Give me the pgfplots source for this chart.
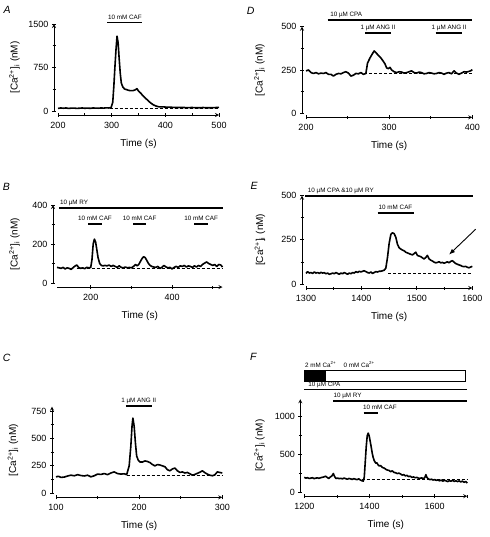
\documentclass[border=0pt]{standalone}
\usepackage{pgfplots}
\pgfplotsset{compat=1.18}
\usepackage{fontspec}
\setmainfont{Liberation Sans}
\usetikzlibrary{arrows.meta}
\newcommand{\annfont}{\fontsize{6.3}{7}\selectfont}
\newcommand{\lab}[4][base]{\node[anchor=#1, font=\annfont, inner sep=0pt, yshift=3.5pt] at (axis cs:#2,#3) {#4};}
\tikzset{
  trace/.style={black, line width=1.6pt, line join=round},
  base/.style={black, line width=0.7pt, dash pattern=on 3pt off 2pt},
  bar/.style={black, line width=1.8pt},
  plab/.style={font=\fontsize{10.5}{12}\selectfont\itshape, anchor=west, inner sep=0pt},
}
\pgfplotsset{
  igorbase/.style={
    scale only axis, anchor=south west, clip=false,
    tick align=outside,
    major tick length=4pt,
    minor tick length=3pt,
    every tick/.append style={black, line width=0.8pt},
    axis line style={-, line width=0.8pt},
    tick label style={font=\fontsize{9}{10}\selectfont},
    /pgf/number format/assume math mode=true,
    /pgf/number format/1000 sep={},
  },
  igorx/.style={igorbase,
    axis x line=bottom, axis y line=none,
    ymajorticks=false, yminorticks=false,
    xticklabel style={yshift=-1.5pt},
    xlabel={Time (s)},
    every axis x label/.style={at={(axis description cs:0.5,0)}, yshift=-29pt, anchor=center, font=\fontsize{10}{12}\selectfont},
  },
  igory/.style={igorbase,
    axis y line=left, axis x line=none,
    xmajorticks=false, xminorticks=false,
    ylabel={[Ca\textsuperscript{2+}]\textsubscript{i} (nM)},
    every axis y label/.style={at={(axis description cs:#1,0.5)}, rotate=90, anchor=center, font=\fontsize{10}{12}\selectfont},
  },
  igord/.style={scale only axis, anchor=south west, clip=false, hide axis},
  pA/.style={width=161pt, height=87pt, xmin=200, xmax=500, ymin=0, ymax=1500,
    xtick={200,300,400,500}, minor xtick={250,350,450}, ytick={0,750,1500}, minor ytick={375,1125}},
  pB/.style={width=165.5pt, height=78pt, xmin=117, xmax=524, ymin=0, ymax=400,
    xtick={200,400}, minor xtick={300,500}, ytick={0,200,400}, minor ytick={100,300}},
  pC/.style={width=166.3pt, height=86.7pt, xmin=100, xmax=300, ymin=0, ymax=790,
    xtick={100,200,300}, minor xtick={150,250}, ytick={0,250,500,750}, minor ytick={125,375,625}},
  pD/.style={width=166.3pt, height=86.6pt, xmin=200, xmax=400, ymin=0, ymax=500,
    xtick={200,300,400}, minor xtick={250,350}, ytick={0,250,500}, minor ytick={125,375}},
  pE/.style={width=166.3pt, height=88.3pt, xmin=1300, xmax=1600, ymin=0, ymax=500,
    xtick={1300,1400,1500,1600}, minor xtick={1350,1450,1550}, ytick={0,250,500}, minor ytick={125,375}},
  pF/.style={width=163pt, height=93pt, xmin=1200, xmax=1700, ymin=0, ymax=1220,
    xtick={1200,1400,1600}, minor xtick={1300,1500,1700}, ytick={0,500,1000}, minor ytick={250,750}},
}
\begin{document}
\begin{tikzpicture}
\useasboundingbox (0,0) rectangle (489pt,-537pt);
% ---------------- A
\begin{axis}[pA, igorx, at={(58pt,-115pt)}]\end{axis}
\begin{axis}[pA, igory=-0.2453, at={(54pt,-111pt)}]\end{axis}
\begin{axis}[pA, igord, at={(58pt,-111pt)}]
\addplot[base] coordinates {(296,50)(500,50)};
\addplot[trace] coordinates {
(200,45)(205,52)(210,48)(215,52)(220,45)(225,50)(230,50)(235,45)(240,48)(245,52)(250,47)(255,50)(260,46)(265,52)(270,50)(275,48)(280,52)(285,50)(290,55)(295,52)(299,60)
(302,150)(304,420)(306,750)(308,1050)(310,1290)(312,1180)(314,900)(316,650)(318,480)(321,410)(324,380)(328,368)(332,355)(336,350)(340,352)(344,365)(347,385)(350,345)(354,310)(358,265)(362,230)(366,195)(370,160)(374,130)(378,105)(382,88)(386,76)(390,70)(395,72)(400,68)(410,65)(420,60)(430,62)(440,58)(450,60)(460,55)(470,60)(480,55)(490,58)(500,62)};
\addplot[bar] coordinates {(292,1525)(357,1525)};
\lab{324.5}{1525}{10 mM CAF}
\end{axis}
% ---------------- B
\begin{axis}[pB, igorx, at={(57pt,-287pt)}]\end{axis}
\begin{axis}[pB, igory=-0.2326, at={(53pt,-283pt)}]\end{axis}
\begin{axis}[pB, igord, at={(57pt,-283pt)}]
\addplot[base] coordinates {(165,75)(524,75)};
\addplot[trace] coordinates {
(117,80)(122,78)(127,75)(132,80)(137,72)(142,78)(147,75)(152,70)(157,80)(162,88)(166,92)(170,80)(175,75)(180,78)(185,73)(190,80)(195,78)(200,80)
(203,120)(206,200)(209,225)(212,210)(215,170)(218,130)(222,100)(226,90)(230,88)(235,90)(240,88)(245,92)(250,85)(255,90)(260,85)(265,80)(270,88)(275,80)(280,78)(285,82)(290,78)(295,80)(300,78)(305,85)(310,95)(314,88)(318,95)
(322,110)(326,125)(330,135)(334,130)(338,115)(342,100)(346,90)(350,85)(355,82)(360,80)(365,85)(370,75)(375,80)(380,90)(385,82)(390,78)(395,80)(400,72)(405,80)(410,85)(415,80)(420,88)(425,85)(430,90)(435,82)(440,88)(445,85)(450,80)(455,88)(460,82)(465,90)(470,85)(475,95)(480,102)(485,108)(490,100)(495,95)(500,90)(505,95)(510,85)(515,95)(520,92)(524,82)};
\addplot[bar] coordinates {(122,386)(525,386)};
\lab[base west]{124}{386}{10 µM RY}
\addplot[bar] coordinates {(194,301)(227,301)};
\lab{210.5}{301}{10 mM CAF}
\addplot[bar] coordinates {(304,301)(337,301)};
\lab{320.5}{301}{10 mM CAF}
\addplot[bar] coordinates {(455,301)(488,301)};
\lab{471.5}{301}{10 mM CAF}
\end{axis}
% ---------------- C
\begin{axis}[pC, igorx, at={(56pt,-497.3pt)}]\end{axis}
\begin{axis}[pC, igory=-0.2345, at={(52pt,-493.3pt)}]\end{axis}
\begin{axis}[pC, igord, at={(56pt,-493.3pt)}]
\addplot[base] coordinates {(185,165)(300,165)};
\addplot[trace] coordinates {
(100,150)(103,155)(106,145)(110,148)(114,158)(118,165)(122,160)(126,170)(130,162)(134,158)(138,165)(142,150)(146,160)(150,175)(154,172)(158,180)(162,170)(166,185)(170,195)(174,180)(178,175)(182,178)(185,170)
(188,250)(190,430)(191.5,620)(192.5,685)(194,610)(195.5,460)(197,340)(199,300)(201,285)(204,285)(207,295)(210,290)(213,280)(216,262)(219,250)(222,262)(225,258)(228,250)(231,242)(234,215)(237,205)(240,222)(243,230)(246,205)(249,190)(252,195)(255,185)(258,190)(261,178)(264,165)(267,172)(270,182)(273,192)(276,205)(279,188)(282,175)(285,165)(288,160)(291,168)(294,195)(297,190)(300,185)};
\addplot[bar] coordinates {(184,798)(215,798)};
\lab{199.5}{798}{1 µM ANG II}
\end{axis}
% ---------------- D
\begin{axis}[pD, igorx, at={(306pt,-117.3pt)}]\end{axis}
\begin{axis}[pD, igory=-0.2556, at={(302pt,-113.3pt)}]\end{axis}
\begin{axis}[pD, igord, at={(306pt,-113.3pt)}]
\addplot[base] coordinates {(270,230)(400,230)};
\addplot[trace] coordinates {
(200,245)(203,250)(206,235)(209,230)(212,235)(215,228)(218,232)(221,230)(224,235)(227,225)(230,225)(233,215)(236,225)(239,230)(242,228)(245,235)(248,240)(251,232)(254,215)(257,220)(260,230)(263,228)(266,235)(269,225)(272,230)
(274,290)(277,320)(280,345)(282,360)(284,350)(287,335)(290,320)(293,300)(295,285)(297,262)(299,258)(301,265)(303,250)(306,240)(309,235)(312,240)(315,238)(318,232)(321,235)(324,240)(327,245)(330,235)(333,232)(336,238)(339,235)(342,228)(345,230)(348,235)(351,232)(354,228)(357,230)(360,235)(363,232)(366,225)(369,232)(372,235)(375,228)(378,245)(381,232)(384,225)(387,232)(390,240)(393,238)(396,242)(398,245)(400,252)};
\addplot[bar] coordinates {(226,539)(400,539)};
\lab[base west]{229}{539}{10 µM CPA}
\addplot[bar] coordinates {(271,462)(302,462)};
\lab{286.5}{462}{1 µM ANG II}
\addplot[bar] coordinates {(356,462)(388,462)};
\lab{372}{462}{1 µM ANG II}
\end{axis}
% ---------------- E
\begin{axis}[pE, igorx, at={(306pt,-288pt)}]\end{axis}
\begin{axis}[pE, igory=-0.2526, at={(302pt,-284pt)}]\end{axis}
\begin{axis}[pE, igord, at={(306pt,-284pt)}]
\addplot[base] coordinates {(1448,60)(1600,60)};
\addplot[trace] coordinates {
(1300,60)(1303,70)(1306,62)(1309,65)(1312,60)(1315,68)(1318,62)(1321,65)(1324,60)(1327,66)(1330,62)(1333,64)(1336,58)(1339,62)(1342,55)(1345,58)(1348,62)(1351,58)(1354,65)(1357,60)(1360,55)(1363,62)(1366,58)(1369,65)(1372,60)(1375,55)(1378,62)(1381,58)(1384,65)(1387,62)(1390,70)(1393,65)(1396,72)(1399,68)(1402,72)(1405,75)(1408,70)(1411,65)(1414,62)(1417,68)(1420,60)(1423,65)(1426,70)(1429,68)(1432,72)(1435,72)(1438,75)(1441,78)
(1444,90)(1447,150)(1450,230)(1453,280)(1456,290)(1459,285)(1462,265)(1465,225)(1468,205)(1471,198)(1474,192)(1477,188)(1480,180)(1483,176)(1486,172)(1489,168)(1492,165)(1495,172)(1498,180)(1501,162)(1504,158)(1507,155)(1510,148)(1513,142)(1516,150)(1519,162)(1522,142)(1525,135)(1528,130)(1531,124)(1534,120)(1537,122)(1540,126)(1543,120)(1546,122)(1549,118)(1552,121)(1555,126)(1558,120)(1561,128)(1564,132)(1567,124)(1570,116)(1573,112)(1576,108)(1579,105)(1582,100)(1585,98)(1588,100)(1591,95)(1594,92)(1597,96)(1600,100)};
\addplot[bar] coordinates {(1298,500)(1602,500)};
\lab[base west]{1303}{500}{10 µM CPA \&10 µM RY}
\addplot[bar] coordinates {(1429,404)(1494,404)};
\lab{1461.5}{404}{10 mM CAF}
\draw[line width=0.9pt, -{Latex[length=6pt,width=4.5pt]}] (axis cs:1606,310) -- (axis cs:1558,166);
\end{axis}
% ---------------- F
\begin{axis}[pF, igorx, at={(304.3pt,-496.2pt)}]\end{axis}
\begin{axis}[pF, igory=-0.2503, at={(300.3pt,-492.2pt)}]\end{axis}
\begin{axis}[pF, igord, at={(304.3pt,-492.2pt)}]
\addplot[base] coordinates {(1376,175)(1700,175)};
\addplot[trace] coordinates {
(1200,195)(1205,185)(1210,190)(1215,180)(1220,185)(1225,190)(1230,178)(1235,185)(1240,188)(1245,182)(1250,190)(1255,195)(1260,200)(1265,210)(1270,195)(1275,180)(1280,200)(1285,215)(1289,245)(1293,205)(1297,180)(1302,185)(1307,178)(1312,182)(1317,175)(1322,185)(1327,178)(1332,170)(1337,180)(1342,175)(1347,168)(1352,178)(1357,170)(1362,165)(1367,175)(1372,160)(1377,150)(1381,145)
(1384,200)(1387,400)(1390,600)(1393,740)(1396,775)(1399,740)(1402,670)(1405,600)(1408,520)(1411,460)(1414,420)(1417,395)(1420,380)(1423,385)(1426,360)(1430,345)(1434,350)(1438,330)(1442,320)(1446,315)(1450,300)(1455,290)(1460,285)(1465,270)(1470,280)(1475,260)(1480,255)(1485,245)(1490,250)(1495,240)(1500,225)(1505,230)(1510,215)(1515,220)(1520,205)(1525,210)(1530,195)(1535,200)(1540,190)(1545,195)(1550,185)(1555,180)(1560,190)(1565,175)(1570,195)(1573,230)(1576,195)(1580,175)(1585,165)(1590,170)(1595,160)(1600,165)(1605,155)(1610,160)(1615,150)(1620,158)(1625,145)(1630,155)(1635,148)(1640,140)(1645,150)(1650,145)(1655,155)(1660,142)(1665,150)(1670,140)(1675,148)(1680,135)(1685,145)(1690,130)(1695,140)(1700,120)};
\draw[line width=1pt, fill=white] (axis cs:1200,1450) rectangle (axis cs:1694,1592);
\fill[black] (axis cs:1200,1450) rectangle (axis cs:1267,1592);
\node[anchor=base west, font=\annfont, inner sep=0pt] at (axis cs:1202,1640) {2 mM Ca\textsuperscript{2+}};
\node[anchor=base west, font=\annfont, inner sep=0pt] at (axis cs:1320,1640) {0 mM Ca\textsuperscript{2+}};
\addplot[bar] coordinates {(1382,1035)(1426,1035)};
\lab[base west]{1380}{1035}{10 mM CAF}
\addplot[bar] coordinates {(1289,1192)(1700,1192)};
\lab[base west]{1289}{1192}{10 µM RY}
\addplot[bar] coordinates {(1200,1347)(1700,1347)};
\lab[base west]{1212}{1347}{10 µM CPA}
\end{axis}
% panel letters
\node[plab] at (3.3pt,-10pt) {A};
\node[plab] at (2.7pt,-186.7pt) {B};
\node[plab] at (2.7pt,-358pt) {C};
\node[plab] at (246.7pt,-10.7pt) {D};
\node[plab] at (250.3pt,-185.5pt) {E};
\node[plab] at (250pt,-357pt) {F};
\end{tikzpicture}
\end{document}
